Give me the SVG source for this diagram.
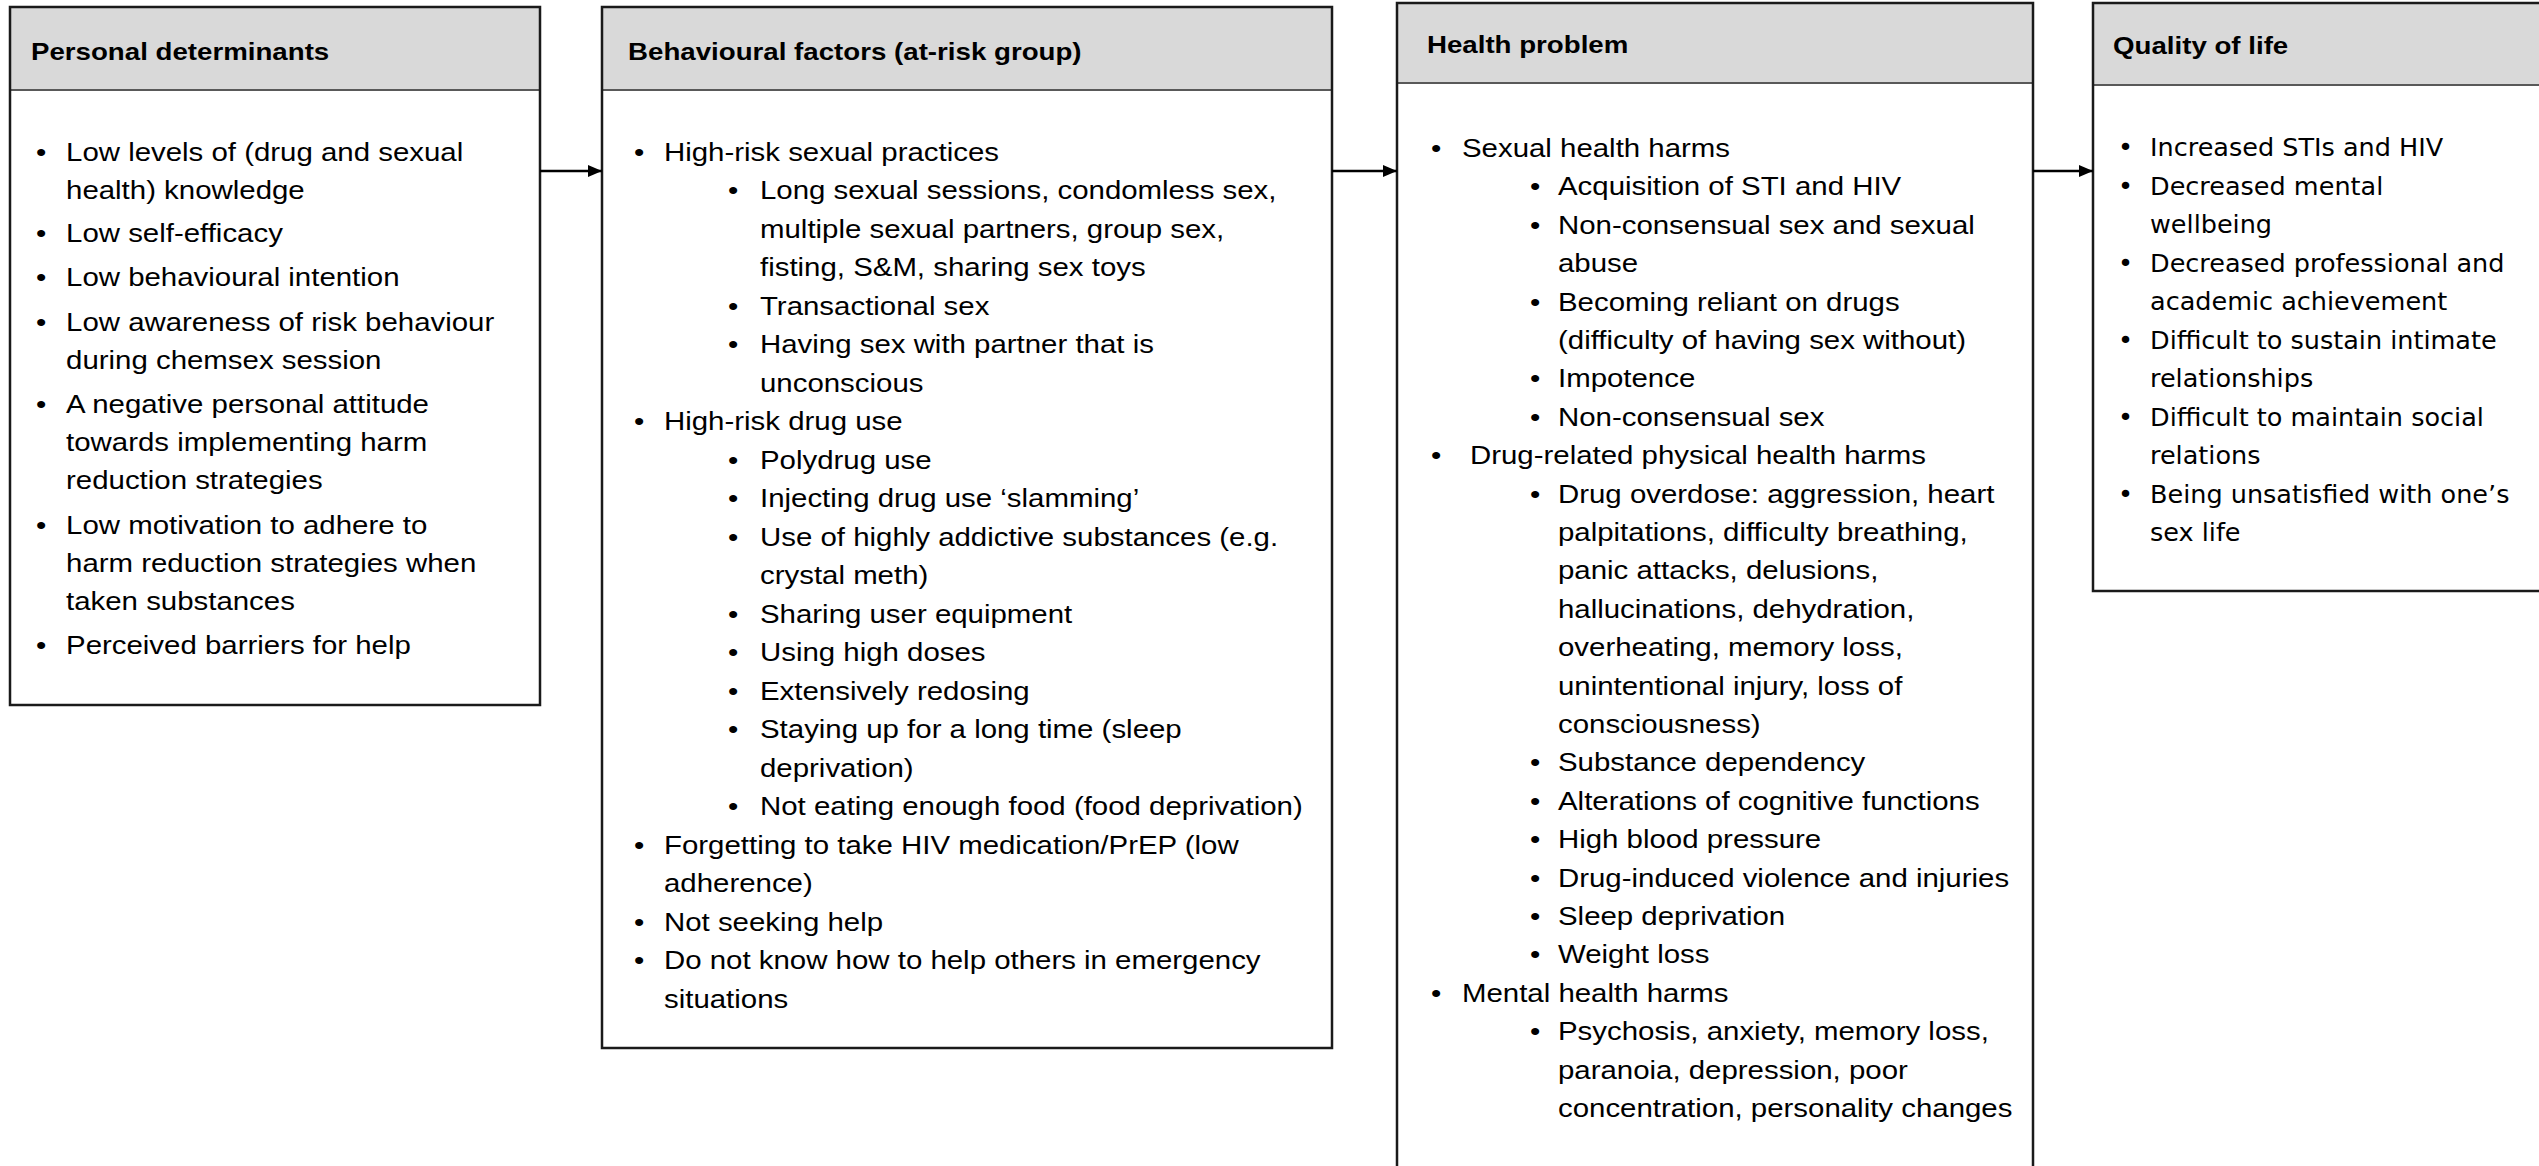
<svg xmlns="http://www.w3.org/2000/svg" width="2539" height="1166" viewBox="0 0 2539 1166">
<defs>
<style>
.bg{fill:#ffffff;stroke:none}
.hdr{fill:#d9d9d9;stroke:none}
.sep{stroke:#595959;stroke-width:2}
.frame{fill:none;stroke:#1a1a1a;stroke-width:2.5}
.t{font-family:"Liberation Sans",Arial,sans-serif;font-size:24.5px;font-weight:bold;fill:#000}
.b{font-family:"Liberation Sans",Arial,sans-serif;font-size:26.5px;fill:#000}
.q{font-family:"DejaVu Sans",Verdana,sans-serif;font-size:25.5px;fill:#000}
.conn{stroke:#000;stroke-width:2.5;fill:none}
</style>
<marker id="ah" markerWidth="14" markerHeight="12" refX="14" refY="6" orient="auto" markerUnits="userSpaceOnUse">
<path d="M0,0 L14,6 L0,12 Z" fill="#000"/>
</marker>
</defs>
<rect x="0" y="0" width="2539" height="1166" fill="#ffffff"/>

<g id="personal-determinants">
<rect class="bg" x="10" y="7" width="530" height="698"/>
<rect class="hdr" x="10" y="7" width="530" height="83"/>
<line class="sep" x1="10" y1="90" x2="540" y2="90"/>
<rect class="frame" x="10" y="7" width="530" height="698"/>
<text class="t" x="27.4" y="60" transform="scale(1.13 1)">Personal determinants</text>
<g class="b" transform="scale(1.11 1)">
<text x="32.4" y="161">•</text><text x="59.5" y="161">Low levels of (drug and sexual</text>
<text x="59.5" y="199">health) knowledge</text>
<text x="32.4" y="242">•</text><text x="59.5" y="242">Low self-efficacy</text>
<text x="32.4" y="286">•</text><text x="59.5" y="286">Low behavioural intention</text>
<text x="32.4" y="331">•</text><text x="59.5" y="331">Low awareness of risk behaviour</text>
<text x="59.5" y="369">during chemsex session</text>
<text x="32.4" y="413">•</text><text x="59.5" y="413">A negative personal attitude</text>
<text x="59.5" y="451">towards implementing harm</text>
<text x="59.5" y="489">reduction strategies</text>
<text x="32.4" y="534">•</text><text x="59.5" y="534">Low motivation to adhere to</text>
<text x="59.5" y="572">harm reduction strategies when</text>
<text x="59.5" y="610">taken substances</text>
<text x="32.4" y="654">•</text><text x="59.5" y="654">Perceived barriers for help</text>
</g>
</g>

<g id="behavioural-factors">
<rect class="bg" x="602" y="7" width="730" height="1041"/>
<rect class="hdr" x="602" y="7" width="730" height="83"/>
<line class="sep" x1="602" y1="90" x2="1332" y2="90"/>
<rect class="frame" x="602" y="7" width="730" height="1041"/>
<text class="t" x="555.8" y="60" transform="scale(1.13 1)">Behavioural factors (at-risk group)</text>
<g class="b" transform="scale(1.11 1)">
<text x="571.2" y="161">•</text><text x="598.2" y="161">High-risk sexual practices</text>
<text x="655.9" y="199.5">•</text><text x="684.7" y="199.5">Long sexual sessions, condomless sex,</text>
<text x="684.7" y="238">multiple sexual partners, group sex,</text>
<text x="684.7" y="276.5">fisting, S&amp;M, sharing sex toys</text>
<text x="655.9" y="315">•</text><text x="684.7" y="315">Transactional sex</text>
<text x="655.9" y="353.5">•</text><text x="684.7" y="353.5">Having sex with partner that is</text>
<text x="684.7" y="392">unconscious</text>
<text x="571.2" y="430.5">•</text><text x="598.2" y="430.5">High-risk drug use</text>
<text x="655.9" y="469">•</text><text x="684.7" y="469">Polydrug use</text>
<text x="655.9" y="507.5">•</text><text x="684.7" y="507.5">Injecting drug use ‘slamming’</text>
<text x="655.9" y="546">•</text><text x="684.7" y="546">Use of highly addictive substances (e.g.</text>
<text x="684.7" y="584.5">crystal meth)</text>
<text x="655.9" y="623">•</text><text x="684.7" y="623">Sharing user equipment</text>
<text x="655.9" y="661.5">•</text><text x="684.7" y="661.5">Using high doses</text>
<text x="655.9" y="700">•</text><text x="684.7" y="700">Extensively redosing</text>
<text x="655.9" y="738.5">•</text><text x="684.7" y="738.5">Staying up for a long time (sleep</text>
<text x="684.7" y="777">deprivation)</text>
<text x="655.9" y="815.5">•</text><text x="684.7" y="815.5">Not eating enough food (food deprivation)</text>
<text x="571.2" y="854">•</text><text x="598.2" y="854">Forgetting to take HIV medication/PrEP (low</text>
<text x="598.2" y="892.5">adherence)</text>
<text x="571.2" y="931">•</text><text x="598.2" y="931">Not seeking help</text>
<text x="571.2" y="969.5">•</text><text x="598.2" y="969.5">Do not know how to help others in emergency</text>
<text x="598.2" y="1008">situations</text>
</g>
</g>

<g id="health-problem">
<rect class="bg" x="1397" y="3" width="636" height="1200"/>
<rect class="hdr" x="1397" y="3" width="636" height="80"/>
<line class="sep" x1="1397" y1="83" x2="2033" y2="83"/>
<rect class="frame" x="1397" y="3" width="636" height="1200"/>
<text class="t" x="1262.8" y="53" transform="scale(1.13 1)">Health problem</text>
<g class="b" transform="scale(1.11 1)">
<text x="1289.2" y="157">•</text><text x="1317.1" y="157">Sexual health harms</text>
<text x="1378.4" y="195.4">•</text><text x="1403.6" y="195.4">Acquisition of STI and HIV</text>
<text x="1378.4" y="233.8">•</text><text x="1403.6" y="233.8">Non-consensual sex and sexual</text>
<text x="1403.6" y="272.2">abuse</text>
<text x="1378.4" y="310.6">•</text><text x="1403.6" y="310.6">Becoming reliant on drugs</text>
<text x="1403.6" y="349">(difficulty of having sex without)</text>
<text x="1378.4" y="387.4">•</text><text x="1403.6" y="387.4">Impotence</text>
<text x="1378.4" y="425.8">•</text><text x="1403.6" y="425.8">Non-consensual sex</text>
<text x="1289.2" y="464.2">•</text><text x="1324.3" y="464.2">Drug-related physical health harms</text>
<text x="1378.4" y="502.6">•</text><text x="1403.6" y="502.6">Drug overdose: aggression, heart</text>
<text x="1403.6" y="541">palpitations, difficulty breathing,</text>
<text x="1403.6" y="579.4">panic attacks, delusions,</text>
<text x="1403.6" y="617.8">hallucinations, dehydration,</text>
<text x="1403.6" y="656.2">overheating, memory loss,</text>
<text x="1403.6" y="694.6">unintentional injury, loss of</text>
<text x="1403.6" y="733">consciousness)</text>
<text x="1378.4" y="771.4">•</text><text x="1403.6" y="771.4">Substance dependency</text>
<text x="1378.4" y="809.8">•</text><text x="1403.6" y="809.8">Alterations of cognitive functions</text>
<text x="1378.4" y="848.2">•</text><text x="1403.6" y="848.2">High blood pressure</text>
<text x="1378.4" y="886.6">•</text><text x="1403.6" y="886.6">Drug-induced violence and injuries</text>
<text x="1378.4" y="925">•</text><text x="1403.6" y="925">Sleep deprivation</text>
<text x="1378.4" y="963.4">•</text><text x="1403.6" y="963.4">Weight loss</text>
<text x="1289.2" y="1001.8">•</text><text x="1317.1" y="1001.8">Mental health harms</text>
<text x="1378.4" y="1040.2">•</text><text x="1403.6" y="1040.2">Psychosis, anxiety, memory loss,</text>
<text x="1403.6" y="1078.6">paranoia, depression, poor</text>
<text x="1403.6" y="1117">concentration, personality changes</text>
</g>
</g>

<g id="quality-of-life">
<rect class="bg" x="2093" y="3" width="470" height="588"/>
<rect class="hdr" x="2093" y="3" width="470" height="82"/>
<line class="sep" x1="2093" y1="85" x2="2563" y2="85"/>
<rect class="frame" x="2093" y="3" width="470" height="588"/>
<text class="t" x="1869.9" y="54" transform="scale(1.13 1)">Quality of life</text>
<g class="q">
<text x="2118" y="156">•</text><text x="2150" y="156">Increased STIs and HIV</text>
<text x="2118" y="194.5">•</text><text x="2150" y="194.5">Decreased mental</text>
<text x="2150" y="233">wellbeing</text>
<text x="2118" y="271.5">•</text><text x="2150" y="271.5">Decreased professional and</text>
<text x="2150" y="310">academic achievement</text>
<text x="2118" y="348.5">•</text><text x="2150" y="348.5">Difficult to sustain intimate</text>
<text x="2150" y="387">relationships</text>
<text x="2118" y="425.5">•</text><text x="2150" y="425.5">Difficult to maintain social</text>
<text x="2150" y="464">relations</text>
<text x="2118" y="502.5">•</text><text x="2150" y="502.5">Being unsatisfied with one’s</text>
<text x="2150" y="541">sex life</text>
</g>
</g>

<g id="connectors">
<line class="conn" x1="540" y1="171" x2="602" y2="171" marker-end="url(#ah)"/>
<line class="conn" x1="1332" y1="171" x2="1397" y2="171" marker-end="url(#ah)"/>
<line class="conn" x1="2033" y1="171" x2="2093" y2="171" marker-end="url(#ah)"/>
</g>
</svg>
